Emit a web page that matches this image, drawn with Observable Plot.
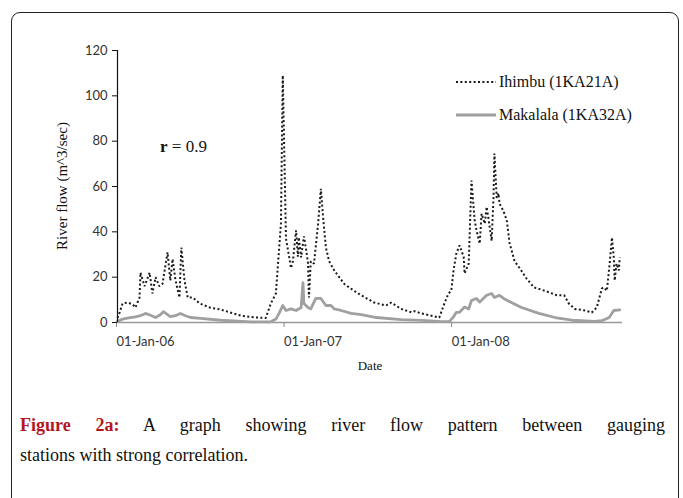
<!DOCTYPE html>
<html>
<head>
<meta charset="utf-8">
<script src="https://cdn.jsdelivr.net/npm/d3@7"></script>
<script src="https://cdn.jsdelivr.net/npm/@observablehq/plot@0.6"></script>
<style>
  body { margin: 0; background: #fff; }
  #wrap { position: relative; width: 683px; height: 498px; overflow: hidden; background: #fff; }
  #frame { position: absolute; left: 11px; top: 12px; width: 668px; height: 520px; border: 1.5px solid #222; border-radius: 9px; box-sizing: border-box; }
  #chart { position: absolute; left: 0; top: 0; }
  .serif { font-family: "Liberation Serif", "Times New Roman", serif; color: #111; position: absolute; white-space: nowrap; }
  #ylab { left: 62px; top: 186px; transform: translate(-50%, -50%) rotate(-90deg); font-size: 15px; }
  #xlab { left: 370px; top: 366px; transform: translate(-50%, -50%); font-size: 13px; }
  #rlab { left: 160px; top: 147px; transform: translateY(-50%); font-size: 17px; }
  .leg { position: absolute; left: 456px; display: flex; align-items: center; font-family: "Liberation Serif", serif; font-size: 16px; color: #111; white-space: nowrap; }
  .leg svg { margin-right: 3px; }
  #caption { position: absolute; left: 20px; top: 410px; width: 645px; font-family: "Liberation Serif", "Times New Roman", serif; font-size: 18px; line-height: 30px; color: #111; }
  #caption .l1 { text-align: justify; text-align-last: justify; }
  #caption b { color: #b3161e; }
</style>
</head>
<body>
<div id="wrap">
  <div id="frame"></div>
  <div id="chart"></div>
  <div class="serif" id="ylab">River flow (m^3/sec)</div>
  <div class="serif" id="xlab">Date</div>
  <div class="serif" id="rlab"><b>r</b> = 0.9</div>
  <div class="leg" id="leg1" style="top:73px"></div>
  <div class="leg" id="leg2" style="top:106px"></div>
  <div id="caption">
    <div class="l1"><b>Figure 2a:</b> A graph showing river flow pattern between gauging</div>
    <div>stations with strong correlation.</div>
  </div>
</div>
<script>
// ---- data ----
const seriesNames = ["Ihimbu (1KA21A)", "Makalala (1KA32A)"];

const ihimbuDates = [
  "2006-01-01","2006-01-05","2006-01-12","2006-01-23","2006-02-03","2006-02-09","2006-02-18","2006-02-20",
  "2006-03-01","2006-03-12","2006-03-18","2006-03-25","2006-04-02","2006-04-09","2006-04-20","2006-04-26",
  "2006-05-01","2006-05-07","2006-05-16","2006-05-20","2006-05-27","2006-06-03","2006-06-14","2006-06-29",
  "2006-07-21","2006-08-14","2006-09-27","2006-10-29","2006-11-20","2006-12-01","2006-12-12","2006-12-23",
  "2006-12-27","2007-01-03","2007-01-09","2007-01-14","2007-01-18","2007-01-25","2007-01-29","2007-01-31",
  "2007-02-05","2007-02-11","2007-02-16","2007-02-20","2007-02-22","2007-02-26","2007-03-05","2007-03-14",
  "2007-03-20","2007-03-25","2007-03-31","2007-04-07","2007-04-18","2007-05-10","2007-06-09","2007-07-14",
  "2007-08-09","2007-08-20","2007-09-11","2007-10-03","2007-10-10","2007-10-25","2007-11-16","2007-12-03",
  "2007-12-14","2007-12-23","2007-12-29","2008-01-03","2008-01-09","2008-01-16","2008-01-25","2008-01-27",
  "2008-02-05","2008-02-11","2008-02-18","2008-02-22","2008-02-29","2008-03-04","2008-03-11","2008-03-15",
  "2008-03-19","2008-03-26","2008-03-30","2008-04-01","2008-04-06","2008-04-10","2008-04-12","2008-04-21",
  "2008-04-28","2008-05-04","2008-05-15","2008-05-26","2008-06-10","2008-06-26","2008-07-20","2008-08-15",
  "2008-08-31","2008-09-10","2008-09-23","2008-10-15","2008-10-30","2008-11-10","2008-11-21","2008-11-25",
  "2008-12-02","2008-12-08","2008-12-13","2008-12-17","2008-12-19","2008-12-23","2008-12-28","2008-12-30"
];
const ihimbuFlow = [
  2, 4, 8.4, 8.8, 8, 6.6, 11, 22,
  16, 22, 12.8, 20, 16, 17, 31, 18.5,
  28, 19, 11, 33, 18.5, 11, 11, 8.4,
  6.6, 5.7, 3, 2.2, 2, 8.4, 12.8, 43.7,
  109, 37, 30, 24, 27, 40.6, 29, 37.5,
  28.7, 38, 32, 26, 11, 27, 26, 43.6,
  59, 46, 33, 27, 23, 17, 12.8, 8.8,
  7.5, 8.8, 6, 4.5, 5, 4, 3, 2.2,
  8.4, 12.8, 14, 23, 30.4, 34, 29, 21.6,
  26, 62.6, 45, 40.6, 34.8, 48, 43.6, 51,
  46, 36, 55, 74.5, 55, 57, 52.5, 49,
  45, 35, 27, 24, 19.4, 15.5, 14, 12,
  12, 8.4, 6, 5.3, 4.4, 6.6, 15, 15.5,
  14, 26, 37.5, 28.7, 18.5, 26, 23, 28.7
];

const makalalaDates = [
  "2006-01-01","2006-01-12","2006-01-25","2006-02-09","2006-02-20","2006-03-03","2006-03-14","2006-03-25",
  "2006-04-05","2006-04-11","2006-04-20","2006-04-26","2006-05-07","2006-05-18","2006-05-29","2006-06-09",
  "2006-07-01","2006-08-14","2006-10-18","2006-12-01","2006-12-12","2006-12-19","2006-12-27","2007-01-03",
  "2007-01-14","2007-01-25","2007-02-05","2007-02-09","2007-02-11","2007-02-20","2007-02-26","2007-03-05",
  "2007-03-09","2007-03-20","2007-03-31","2007-04-11","2007-04-18","2007-05-03","2007-05-25","2007-06-16",
  "2007-07-19","2007-09-11","2007-10-25","2007-12-08","2007-12-25","2008-01-03","2008-01-09","2008-01-16",
  "2008-01-27","2008-02-05","2008-02-11","2008-02-22","2008-02-29","2008-03-15","2008-03-26","2008-04-01",
  "2008-04-12","2008-04-21","2008-05-08","2008-05-30","2008-07-07","2008-08-11","2008-09-17","2008-11-06",
  "2008-11-21","2008-12-07","2008-12-17","2008-12-30"
];
const makalalaFlow = [
  0.5, 1.5, 2, 2.5, 3, 4, 3.2, 2.2,
  3.5, 4.8, 3.5, 2.6, 3, 4, 3, 2.2,
  1.8, 1, 0.3, 0.3, 1.5, 4, 7.5, 5.3,
  6, 5.3, 6.6, 17.6, 8.4, 6.6, 6, 9,
  10.6, 10.6, 7.5, 7.5, 6, 5.3, 4, 3.5,
  2.2, 1.3, 0.9, 0.4, 0.5, 2.5, 4.5, 4.5,
  6.8, 6, 9.7, 10.6, 9, 12, 12.8, 11,
  12, 10.6, 8.8, 6.6, 4, 2.2, 1, 0.5,
  0.8, 2.2, 5.3, 5.6
];

const yTicks = [0, 20, 40, 60, 80, 100, 120];
const xTickLabels = ["2006-01-01", "2007-01-01", "2008-01-01"];
const xDomain = ["2006-01-01", "2009-01-05"];

// ---- build ----
const parse = d3.utcParse("%Y-%m-%d");
const ihimbu = ihimbuDates.map((d, i) => ({date: parse(d), flow: ihimbuFlow[i]}));
const makalala = makalalaDates.map((d, i) => ({date: parse(d), flow: makalalaFlow[i]}));
const fmt = d3.utcFormat("%d-%b-%y");

const chart = Plot.plot({
  width: 683,
  height: 380,
  marginLeft: 117,
  marginRight: 61,
  marginTop: 50,
  marginBottom: 58,
  style: {fontFamily: "Lato, 'Open Sans', sans-serif", fontSize: "13px", color: "#333", background: "transparent"},
  x: {type: "utc", domain: xDomain.map(parse)},
  y: {domain: [0, 120]},
  marks: [
    Plot.ruleY([0], {stroke: "#999", strokeWidth: 1.5}),
    Plot.axisX({ticks: xTickLabels.map(parse), tickFormat: fmt, tickSize: 5, tickPadding: 9,
      textAnchor: "start", dx: -1, stroke: "#888", fill: "#333", label: null}),
    Plot.line(makalala, {x: "date", y: "flow", stroke: "#a0a0a0", strokeWidth: 2.8, strokeLinejoin: "round"}),
    Plot.line(ihimbu, {x: "date", y: "flow", stroke: "#1a1a1a", strokeWidth: 2, strokeDasharray: "2,2.4", strokeLinecap: "butt", strokeLinejoin: "miter"}),
    Plot.ruleX([parse(xDomain[0])], {stroke: "#111", strokeWidth: 1.2}),
    Plot.axisY({ticks: yTicks, tickSize: 5, tickPadding: 5, stroke: "#111", fill: "#333", label: null})
  ]
});
document.getElementById("chart").appendChild(chart);

// legend
function legendItem(id, name, stroke, width, dash) {
  const el = document.getElementById(id);
  const svg = d3.create("svg").attr("width", 40).attr("height", 6);
  svg.append("line").attr("x1", 0).attr("x2", 40).attr("y1", 3).attr("y2", 3)
    .attr("stroke", stroke).attr("stroke-width", width).attr("stroke-dasharray", dash);
  el.appendChild(svg.node());
  const span = document.createElement("span");
  span.textContent = name;
  el.appendChild(span);
}
legendItem("leg1", seriesNames[0], "#1a1a1a", 2, "2,2.4");
legendItem("leg2", seriesNames[1], "#a0a0a0", 2.8, null);
</script>
</body>
</html>
